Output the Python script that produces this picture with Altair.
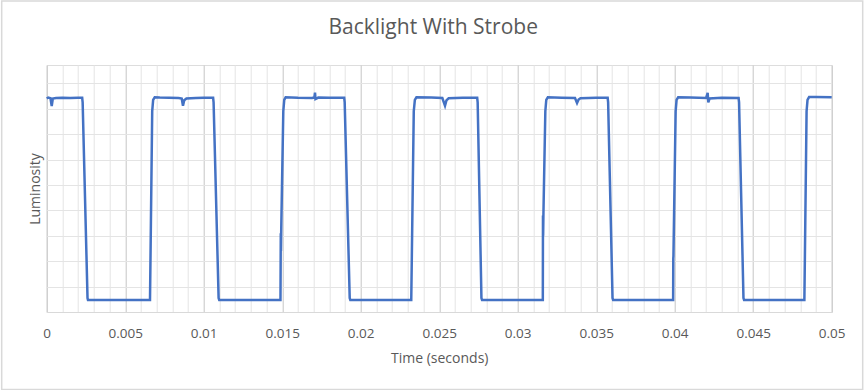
import altair as alt
import pandas as pd

# Time (s) and luminosity samples
time_s = [
    0.00000, 0.00010, 0.00024, 0.00032, 0.00039, 0.00060, 0.00100, 0.00150, 0.00200, 0.00226,
    0.00229, 0.00260, 0.00263, 0.00450, 0.00658,
    0.00672, 0.00678, 0.00688, 0.00720, 0.00780, 0.00840, 0.00860, 0.00868, 0.00876, 0.00890,
    0.00950, 0.01000, 0.01060,
    0.01063, 0.01095, 0.01099, 0.01300, 0.01489,
    0.01492, 0.01491, 0.01494, 0.01507, 0.01513, 0.01522,
    0.01600, 0.01690, 0.01705, 0.01709, 0.01712, 0.01730, 0.01800, 0.01895,
    0.01898, 0.01930, 0.01934, 0.02100, 0.02322,
    0.02338, 0.02345, 0.02355, 0.02450, 0.02520, 0.02537, 0.02546, 0.02560, 0.02650, 0.02742,
    0.02745, 0.02769, 0.02773, 0.02950, 0.03160,
    0.03162, 0.03161, 0.03164, 0.03176, 0.03182, 0.03192,
    0.03280, 0.03365, 0.03378, 0.03388, 0.03400, 0.03500, 0.03573,
    0.03576, 0.03604, 0.03608, 0.03800, 0.03990,
    0.03991, 0.03992, 0.04006, 0.04012, 0.04022,
    0.04100, 0.04200, 0.04210, 0.04214, 0.04222, 0.04300, 0.04407,
    0.04410, 0.04438, 0.04442, 0.04650, 0.04826,
    0.04840, 0.04846, 0.04856, 0.04900, 0.05000,
]
luminosity = [
    8.40, 8.44, 8.41, 8.10, 8.40, 8.42, 8.43, 8.42, 8.43, 8.43,
    8.25, 0.55, 0.47, 0.47, 0.47,
    7.90, 8.35, 8.45, 8.44, 8.43, 8.42, 8.40, 8.12, 8.33, 8.40,
    8.42, 8.43, 8.43,
    8.25, 0.55, 0.47, 0.47, 0.47,
    2.40, 3.10, 3.30, 7.90, 8.35, 8.45,
    8.43, 8.42, 8.44, 8.63, 8.38, 8.44, 8.43, 8.43,
    8.25, 0.55, 0.47, 0.47, 0.47,
    7.90, 8.35, 8.45, 8.44, 8.42, 8.12, 8.33, 8.41, 8.43, 8.43,
    8.25, 0.55, 0.47, 0.47, 0.47,
    3.00, 3.80, 3.90, 7.90, 8.35, 8.45,
    8.43, 8.42, 8.22, 8.36, 8.41, 8.43, 8.43,
    8.25, 0.55, 0.47, 0.47, 0.47,
    2.10, 2.20, 7.90, 8.35, 8.45,
    8.44, 8.42, 8.62, 8.25, 8.40, 8.43, 8.42,
    8.25, 0.55, 0.47, 0.47, 0.47,
    7.90, 8.35, 8.46, 8.46, 8.45,
]

# Gridline / tick positions
x_ticks = [
    0.000, 0.001, 0.002, 0.003, 0.004, 0.005, 0.006, 0.007, 0.008, 0.009,
    0.010, 0.011, 0.012, 0.013, 0.014, 0.015, 0.016, 0.017, 0.018, 0.019,
    0.020, 0.021, 0.022, 0.023, 0.024, 0.025, 0.026, 0.027, 0.028, 0.029,
    0.030, 0.031, 0.032, 0.033, 0.034, 0.035, 0.036, 0.037, 0.038, 0.039,
    0.040, 0.041, 0.042, 0.043, 0.044, 0.045, 0.046, 0.047, 0.048, 0.049,
    0.050,
]
y_ticks = [0, 1, 2, 3, 4, 5, 6, 7, 8, 9]

df = pd.DataFrame({"t": time_s, "lum": luminosity})

FONT = "Open Sans"
TXT = "#595959"
major_test = "abs(datum.value * 200 - round(datum.value * 200)) < 0.01"

line = alt.Chart(df).mark_line(color="#4472c4", strokeWidth=2.5).encode(
    x=alt.X(
        "t:Q",
        scale=alt.Scale(domain=[0, 0.05], nice=False, zero=False),
        axis=alt.Axis(
            values=x_ticks,
            title="Time (seconds)",
            grid=True,
            gridColor={"condition": {"test": major_test, "value": "#c6c6c6"}, "value": "#e4e4e4"},
            gridWidth=1,
            labelExpr=f"{major_test} ? format(datum.value, '~g') : ''",
            ticks=False,
            domain=True,
            domainColor="#d9d9d9",
            labelOverlap=False,
            labelFlush=False,
            labelFont=FONT,
            labelFontSize=13.5,
            labelColor=TXT,
            labelPadding=14,
            titleFont=FONT,
            titleFontSize=14,
            titleFontWeight="normal",
            titleColor=TXT,
            titlePadding=12,
        ),
    ),
    y=alt.Y(
        "lum:Q",
        scale=alt.Scale(domain=[0, 9.72], nice=False, zero=False),
        axis=alt.Axis(
            values=y_ticks,
            labels=False,
            ticks=False,
            domain=False,
            grid=True,
            gridColor="#e4e4e4",
            title="Luminosity",
            titleFont=FONT,
            titleFontSize=14,
            titleFontWeight="normal",
            titleColor=TXT,
            titlePadding=4,
        ),
    ),
)

border = alt.Chart(alt.Data(values=[{}])).mark_rect(
    filled=False, stroke="#d9d9d9", strokeWidth=1.5
).encode(
    x=alt.value(-45),
    x2=alt.value(816),
    y=alt.value(-64),
    y2=alt.value(324.5),
)

chart = alt.layer(border, line).properties(
    width=785,
    height=247,
    title=alt.TitleParams(
        "Backlight With Strobe",
        font=FONT,
        fontSize=21,
        fontWeight="normal",
        color=TXT,
        anchor="middle",
        baseline="alphabetic",
        offset=-55,
        dx=-6,
    ),
    autosize=alt.AutoSizeParams(type="none"),
    padding={"left": 46.7, "top": 65, "right": 34.3, "bottom": 78},
).configure_view(stroke=None).configure(background="white")

chart.save("out.html", embed_options={"renderer": "svg", "actions": False})
